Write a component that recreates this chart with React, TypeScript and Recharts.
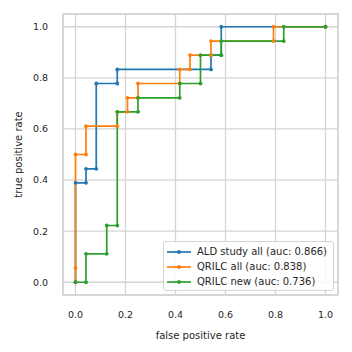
import {
  LineChart,
  Line,
  XAxis,
  YAxis,
  CartesianGrid,
  ReferenceArea,
  Legend,
} from 'recharts'

// ROC points (fpr / tpr pairs)
const aldFpr = [0, 0, 0.042, 0.042, 0.083, 0.083, 0.167, 0.167, 0.542, 0.542, 0.583, 0.583, 1.0]
const aldTpr = [0, 0.389, 0.389, 0.444, 0.444, 0.778, 0.778, 0.833, 0.833, 0.889, 0.889, 1.0, 1.0]

const qrilcAllFpr = [0, 0, 0, 0.042, 0.042, 0.167, 0.167, 0.208, 0.208, 0.25, 0.25, 0.417, 0.417, 0.458, 0.458, 0.542, 0.542, 0.792, 0.792, 1.0]
const qrilcAllTpr = [0, 0.056, 0.5, 0.5, 0.611, 0.611, 0.667, 0.667, 0.722, 0.722, 0.778, 0.778, 0.833, 0.833, 0.889, 0.889, 0.944, 0.944, 1.0, 1.0]

const qrilcNewFpr = [0, 0.042, 0.042, 0.125, 0.125, 0.167, 0.167, 0.25, 0.25, 0.417, 0.417, 0.5, 0.5, 0.583, 0.583, 0.833, 0.833, 1.0]
const qrilcNewTpr = [0, 0, 0.111, 0.111, 0.222, 0.222, 0.667, 0.667, 0.722, 0.722, 0.778, 0.778, 0.889, 0.889, 0.944, 0.944, 1.0, 1.0]

const seriesNames = ['ALD study all (auc: 0.866)', 'QRILC all (auc: 0.838)', 'QRILC new (auc: 0.736)']
const seriesColors = ['#1f77b4', '#ff7f0e', '#2ca02c']
const ticks = [0, 0.2, 0.4, 0.6, 0.8, 1.0]

const toPoints = (xs: number[], ys: number[]) => xs.map((x, i) => ({ x, y: ys[i] }))

const series = [
  toPoints(aldFpr, aldTpr),
  toPoints(qrilcAllFpr, qrilcAllTpr),
  toPoints(qrilcNewFpr, qrilcNewTpr),
]

const FONT = '"DejaVu Sans", sans-serif'
const TEXT = '#262626'
const GRID = '#d4d4d4'

function RocLegend() {
  return (
    <div
      style={{
        background: 'rgba(255,255,255,0.85)',
        border: `1px solid ${GRID}`,
        borderRadius: 3,
        boxSizing: 'border-box',
        width: 171,
        height: 50,
        padding: '2px 0 0 3px',
        fontFamily: FONT,
        fontSize: 10,
        color: TEXT,
      }}
    >
      {seriesNames.map((name, i) => (
        <div key={name} style={{ display: 'flex', alignItems: 'center', height: 15 }}>
          <svg width={24} height={6} style={{ marginRight: 6 }}>
            <line x1={0} y1={3} x2={24} y2={3} stroke={seriesColors[i]} strokeWidth={1.7} />
            <circle cx={12} cy={3} r={1.9} fill={seriesColors[i]} />
          </svg>
          <span style={{ whiteSpace: 'nowrap' }}>{name}</span>
        </div>
      ))}
    </div>
  )
}

export default function App() {
  return (
    <div
      style={{
        position: 'absolute',
        left: 0,
        top: 0,
        width: 352,
        height: 352,
        background: '#fff',
        fontFamily: FONT,
      }}
    >
      <LineChart width={352} height={352} margin={{ top: 14, right: 14, bottom: 0, left: 0 }}>
        <CartesianGrid stroke={GRID} strokeWidth={1.3} />
        <XAxis
          type="number"
          dataKey="x"
          domain={[-0.05, 1.05]}
          ticks={ticks}
          tickFormatter={(v: number) => v.toFixed(1)}
          axisLine={false}
          tickLine={false}
          tickSize={0}
          tickMargin={16}
          height={57}
          tick={{ fontSize: 9.5, fill: TEXT, fontFamily: FONT }}
          label={{
            value: 'false positive rate',
            position: 'insideBottom',
            offset: 13,
            style: { fontSize: 10, fill: TEXT, fontFamily: FONT },
          }}
        />
        <YAxis
          type="number"
          dataKey="y"
          domain={[-0.05, 1.05]}
          ticks={ticks}
          tickFormatter={(v: number) => v.toFixed(1)}
          axisLine={false}
          tickLine={false}
          tickSize={0}
          tickMargin={15}
          width={63}
          tick={{ fontSize: 9.5, fill: TEXT, fontFamily: FONT }}
          label={{
            value: 'true positive rate',
            angle: -90,
            position: 'insideLeft',
            offset: 18,
            style: { fontSize: 10, fill: TEXT, fontFamily: FONT, textAnchor: 'middle' },
          }}
        />
        <ReferenceArea
          x1={-0.05}
          x2={1.05}
          y1={-0.05}
          y2={1.05}
          fill="none"
          stroke={GRID}
          strokeWidth={1.5}
          ifOverflow="visible"
        />
        {series.map((pts, i) => (
          <Line
            key={seriesNames[i]}
            data={pts}
            dataKey="y"
            name={seriesNames[i]}
            type="linear"
            stroke={seriesColors[i]}
            strokeWidth={1.7}
            dot={{ r: 1.9, fill: seriesColors[i], stroke: 'none' }}
            activeDot={false}
            isAnimationActive={false}
          />
        ))}
        <Legend
          layout="vertical"
          verticalAlign="middle"
          align="center"
          content={<RocLegend />}
          wrapperStyle={{ left: 163, top: 241, width: 171, height: 50 }}
        />
      </LineChart>
    </div>
  )
}
